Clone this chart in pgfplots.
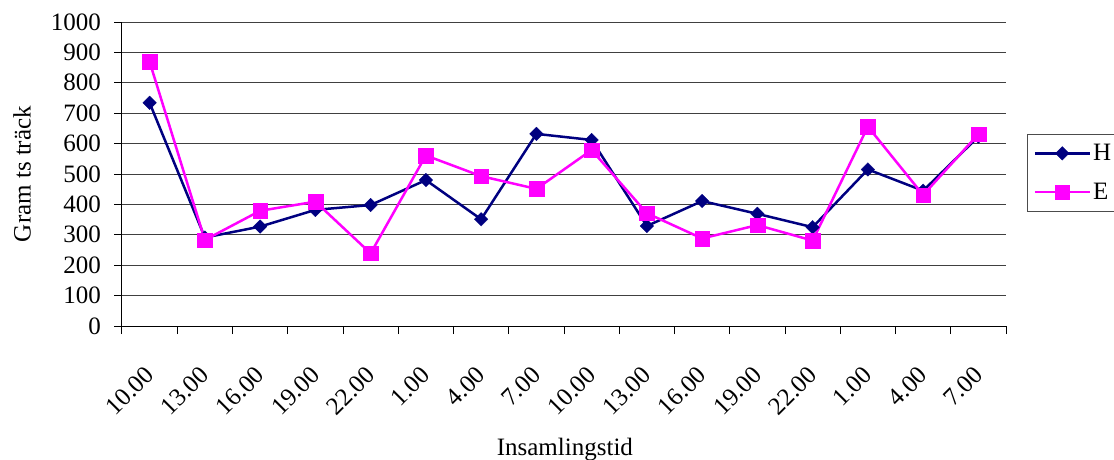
\documentclass[border=0pt]{standalone}
\usepackage{fontspec}
\setmainfont{Liberation Serif}
\usepackage{pgfplots}
\pgfplotsset{compat=1.18}
\definecolor{hcol}{RGB}{0,0,128}
\definecolor{ecol}{RGB}{255,0,255}
\begin{document}
\begin{tikzpicture}
\useasboundingbox (-122pt,-133pt) rectangle (992pt,326pt);
\begin{axis}[
  at={(0,0)}, anchor=south west,
  scale only axis, width=884pt, height=304pt,
  font=\fontsize{25}{30}\selectfont,
  xmin=-0.5, xmax=15.5, ymin=0, ymax=1000,
  axis x line=bottom, axis y line=left,
  axis line style={-, line width=1pt, black},
  xtick={0,...,15},
  xticklabels={10.00,13.00,16.00,19.00,22.00,1.00,4.00,7.00,10.00,13.00,16.00,19.00,22.00,1.00,4.00,7.00},
  major x tick style={draw=none},
  minor xtick={-0.5,0.5,...,15.5},
  minor x tick style={line width=1pt, black},
  minor tick length=8pt,
  ytick={0,100,...,1000},
  major tick length=8pt,
  tick align=outside,
  y tick style={line width=1pt, black},
  ymajorgrids, grid style={line width=1pt, black!75},
  scaled ticks=false,
  /pgf/number format/assume math mode=true,
  /pgf/number format/1000 sep={},
  yticklabel style={anchor=east, inner sep=0pt, xshift=-13pt},
  xticklabel style={rotate=45, anchor=east, inner sep=0pt, xshift=-26pt, yshift=-26pt},
  xlabel={Insamlingstid},
  ylabel={Gram ts träck},
  xlabel style={at={(axis description cs:0.501,-0.405)}, anchor=center},
  ylabel style={at={(axis description cs:-0.113,0.5)}, anchor=center},
  legend style={at={(axis description cs:1.0238,0.632)}, anchor=north west,
    draw=black!70, line width=1pt, inner xsep=6pt, inner ysep=8pt,
    row sep=17pt, font=\fontsize{25}{30}\selectfont},
  legend cell align=left,
  legend image code/.code={\draw[mark repeat=2,mark phase=2,#1] plot coordinates {(0pt,0pt) (27.5pt,0pt) (55pt,0pt)};},
  clip=false,
]
\addplot[hcol, line width=2.5pt, mark=square*, mark size=4.8pt, mark options={rotate=45, line width=0.3pt, fill=hcol}]
  coordinates {(0,734) (1,291) (2,327) (3,382) (4,398) (5,480) (6,351) (7,632) (8,612) (9,329) (10,411) (11,369) (12,325) (13,515) (14,445) (15,623)};
\addlegendentry{H}
\addplot[ecol, line width=2.5pt, mark=square*, mark size=7.3pt, mark options={line width=0.3pt, fill=ecol}]
  coordinates {(0,869) (1,283) (2,379) (3,409) (4,239) (5,561) (6,493) (7,451) (8,579) (9,371) (10,288) (11,332) (12,281) (13,656) (14,431) (15,631)};
\addlegendentry{E}
\end{axis}
\end{tikzpicture}
\end{document}
